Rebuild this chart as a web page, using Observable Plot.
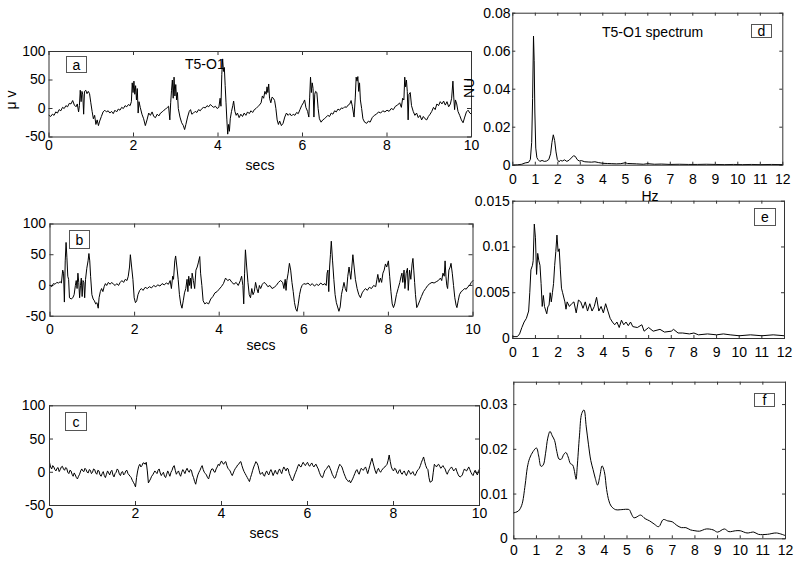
<!DOCTYPE html>
<html><head><meta charset="utf-8">
<script src="https://cdn.jsdelivr.net/npm/d3@7"></script>
<script src="https://cdn.jsdelivr.net/npm/@observablehq/plot@0.6"></script>
<style>
body{margin:0;background:#fff}
#c{position:relative;width:800px;height:563px;font-family:"Liberation Sans",Arial,sans-serif;overflow:hidden}
#c svg{position:absolute;left:0;top:0;background:transparent !important}
.lab{position:absolute;font-size:14px;color:#000;white-space:nowrap;line-height:1}
.box{position:absolute;border:1px solid #555;box-sizing:border-box;display:flex;align-items:center;justify-content:center;font-size:14px;line-height:1;background:#fff}
</style></head><body><div id="c"></div>
<script>
// ---- data ----
const timeTicks = [0, 2, 4, 6, 8, 10];
const voltTicks = [-50, 0, 50, 100];
const hzTicks = [0,1,2,3,4,5,6,7,8,9,10,11,12];
const dTicks = [0, 0.02, 0.04, 0.06, 0.08];
const eTicks = [0, 0.005, 0.01, 0.015];
const fTicks = [0, 0.01, 0.02, 0.03];

// (secs, µV)
const traceA = [[0,-12],[0.04,-14],[0.08,-10],[0.12,-12],[0.16,-6],[0.2,-8],[0.24,-2],[0.28,-4],[0.32,2],[0.36,0],[0.4,5],[0.44,3],[0.48,9],[0.52,8],[0.56,14],[0.6,6],[0.64,3],[0.67,8],[0.7,-6],[0.72,5],[0.74,32],[0.76,12],[0.78,30],[0.8,24],[0.82,-10],[0.84,30],[0.87,32],[0.9,26],[0.93,30],[0.96,26],[0.99,10],[1.02,-5],[1.05,-18],[1.08,-12],[1.11,-28],[1.14,-20],[1.17,-30],[1.2,-22],[1.24,-14],[1.28,-6],[1.32,-3],[1.36,-6],[1.4,-4],[1.44,-8],[1.48,-5],[1.52,-9],[1.56,-3],[1.6,-6],[1.64,-1],[1.68,-3],[1.72,2],[1.76,0],[1.8,5],[1.84,3],[1.88,7],[1.92,5],[1.95,12],[1.97,45],[1.99,28],[2.01,48],[2.03,25],[2.05,40],[2.07,15],[2.09,35],[2.11,-8],[2.13,12],[2.16,2],[2.2,-10],[2.24,-18],[2.28,-30],[2.32,-20],[2.36,-8],[2.4,-12],[2.44,-6],[2.48,-14],[2.52,-16],[2.56,-10],[2.6,-13],[2.64,-8],[2.68,-6],[2.72,-3],[2.76,-1],[2.8,2],[2.83,4],[2.86,-20],[2.88,10],[2.9,32],[2.92,50],[2.94,18],[2.96,55],[2.98,22],[3.0,42],[3.02,15],[3.04,28],[3.06,0],[3.1,-15],[3.14,-25],[3.18,-30],[3.21,-37],[3.24,-28],[3.28,-15],[3.32,-5],[3.35,-2],[3.38,-10],[3.42,-8],[3.46,-5],[3.5,-7],[3.54,-2],[3.58,-4],[3.62,0],[3.66,2],[3.7,1],[3.74,5],[3.78,3],[3.82,7],[3.86,4],[3.9,2],[3.94,4],[3.98,0],[4.02,2],[4.05,18],[4.07,4],[4.09,60],[4.11,87],[4.13,65],[4.15,72],[4.17,40],[4.19,10],[4.21,-20],[4.23,-45],[4.25,-28],[4.27,-40],[4.29,-18],[4.32,-5],[4.35,5],[4.37,13],[4.4,-5],[4.43,-12],[4.46,-8],[4.5,-16],[4.54,-10],[4.58,-14],[4.62,-8],[4.66,-12],[4.7,-6],[4.74,-9],[4.78,-4],[4.82,-7],[4.86,-2],[4.9,0],[4.94,3],[4.98,6],[5.02,10],[5.05,22],[5.08,18],[5.11,30],[5.14,25],[5.16,38],[5.18,28],[5.2,43],[5.22,18],[5.25,10],[5.28,20],[5.31,18],[5.34,14],[5.37,0],[5.4,-20],[5.43,-28],[5.46,-22],[5.5,-30],[5.54,-26],[5.58,-15],[5.62,-8],[5.66,-12],[5.7,-9],[5.74,-13],[5.78,-10],[5.82,-12],[5.86,-7],[5.9,-9],[5.94,-2],[5.98,5],[6.02,10],[6.05,15],[6.08,2],[6.12,-5],[6.15,-15],[6.17,20],[6.19,55],[6.21,28],[6.23,45],[6.25,35],[6.27,-15],[6.29,25],[6.31,30],[6.34,28],[6.37,0],[6.4,-18],[6.44,-24],[6.48,-20],[6.52,-18],[6.56,-15],[6.6,-12],[6.64,-14],[6.68,-8],[6.72,-10],[6.76,-4],[6.8,-6],[6.84,-1],[6.88,-3],[6.92,1],[6.96,0],[7.0,3],[7.04,2],[7.08,6],[7.12,8],[7.15,14],[7.18,4],[7.22,-15],[7.25,20],[7.27,55],[7.29,48],[7.31,56],[7.33,30],[7.35,45],[7.37,15],[7.4,0],[7.43,-18],[7.47,-24],[7.52,-26],[7.56,-22],[7.6,-24],[7.65,-16],[7.7,-12],[7.75,-10],[7.8,-6],[7.85,-8],[7.9,-4],[7.95,-6],[8.0,-3],[8.05,-5],[8.1,0],[8.15,-2],[8.2,4],[8.25,6],[8.3,10],[8.34,2],[8.37,18],[8.4,15],[8.42,55],[8.44,38],[8.46,50],[8.48,30],[8.5,-20],[8.52,25],[8.55,28],[8.58,5],[8.62,-5],[8.66,-12],[8.7,-8],[8.74,-16],[8.78,-12],[8.82,-20],[8.86,-14],[8.9,-18],[8.94,-20],[8.98,-14],[9.02,-10],[9.06,-5],[9.1,2],[9.14,-2],[9.18,8],[9.22,5],[9.26,12],[9.3,8],[9.34,13],[9.38,6],[9.42,12],[9.46,3],[9.5,8],[9.53,18],[9.56,48],[9.58,20],[9.6,-2],[9.62,15],[9.65,8],[9.68,-5],[9.72,-12],[9.76,-20],[9.8,-25],[9.84,-15],[9.88,-6],[9.92,-3],[9.96,-8],[10,-10]];

const traceB = [[0,0],[0.04,-2],[0.08,3],[0.12,2],[0.16,5],[0.2,4],[0.24,6],[0.27,4],[0.3,25],[0.32,20],[0.34,-27],[0.36,40],[0.38,70],[0.4,45],[0.42,15],[0.44,10],[0.46,-20],[0.5,-22],[0.54,-20],[0.57,-15],[0.6,0],[0.62,8],[0.64,-5],[0.66,20],[0.68,5],[0.7,-20],[0.72,0],[0.74,12],[0.76,-18],[0.78,8],[0.8,5],[0.82,-20],[0.84,10],[0.87,28],[0.9,40],[0.92,52],[0.94,40],[0.96,15],[0.99,-15],[1.02,-22],[1.05,-25],[1.08,-30],[1.11,-28],[1.14,-37],[1.16,-20],[1.19,-10],[1.22,-5],[1.25,-10],[1.28,-2],[1.31,3],[1.34,0],[1.38,5],[1.42,2],[1.46,5],[1.5,2],[1.54,0],[1.58,3],[1.62,0],[1.66,5],[1.7,8],[1.74,5],[1.78,10],[1.82,8],[1.85,15],[1.88,30],[1.9,50],[1.93,30],[1.96,10],[1.99,-20],[2.02,-28],[2.05,-25],[2.08,-15],[2.12,-8],[2.16,-5],[2.2,-8],[2.25,-3],[2.3,-5],[2.35,-2],[2.4,-4],[2.45,0],[2.5,-2],[2.55,1],[2.6,-1],[2.65,3],[2.7,1],[2.75,4],[2.8,2],[2.84,8],[2.87,-5],[2.9,15],[2.92,10],[2.95,40],[2.97,48],[3.0,30],[3.03,10],[3.06,-15],[3.09,-30],[3.12,-37],[3.15,-25],[3.18,-12],[3.21,-5],[3.24,10],[3.26,-10],[3.28,15],[3.3,0],[3.32,12],[3.34,-5],[3.36,20],[3.39,8],[3.42,-5],[3.45,25],[3.48,30],[3.51,38],[3.54,47],[3.56,20],[3.59,0],[3.62,-25],[3.66,-30],[3.7,-28],[3.75,-30],[3.8,-22],[3.85,-18],[3.9,-12],[3.95,-10],[4.0,-6],[4.05,-2],[4.1,3],[4.15,12],[4.2,8],[4.25,10],[4.3,5],[4.35,2],[4.4,5],[4.45,0],[4.5,8],[4.53,15],[4.56,0],[4.58,-30],[4.6,20],[4.62,58],[4.65,30],[4.68,5],[4.71,-15],[4.74,-20],[4.77,-5],[4.8,-15],[4.83,-10],[4.86,5],[4.89,-5],[4.92,-12],[4.95,0],[4.98,-5],[5.02,2],[5.06,5],[5.1,3],[5.15,-2],[5.2,0],[5.25,-5],[5.3,-3],[5.35,0],[5.4,5],[5.45,8],[5.5,5],[5.53,-5],[5.56,10],[5.58,-8],[5.6,8],[5.63,20],[5.66,36],[5.69,25],[5.72,5],[5.75,-10],[5.78,-28],[5.81,-38],[5.84,-42],[5.87,-30],[5.9,-15],[5.93,-5],[5.96,0],[6.0,3],[6.05,2],[6.1,4],[6.15,0],[6.2,3],[6.25,-1],[6.3,2],[6.35,0],[6.4,4],[6.45,1],[6.5,3],[6.53,0],[6.55,20],[6.57,25],[6.59,-10],[6.61,30],[6.63,50],[6.65,72],[6.68,40],[6.71,10],[6.74,-15],[6.77,-28],[6.8,-35],[6.83,-42],[6.86,-35],[6.89,-15],[6.92,-5],[6.95,5],[6.98,-5],[7.01,-10],[7.04,15],[7.07,30],[7.09,20],[7.11,10],[7.13,25],[7.16,50],[7.19,30],[7.22,10],[7.26,-5],[7.3,-15],[7.34,-20],[7.38,-12],[7.42,-8],[7.46,-5],[7.5,-8],[7.55,-3],[7.6,-5],[7.65,0],[7.7,-2],[7.73,10],[7.75,18],[7.78,5],[7.81,12],[7.84,5],[7.87,20],[7.9,25],[7.93,35],[7.96,30],[8.0,40],[8.03,15],[8.06,-10],[8.09,-30],[8.12,-36],[8.15,-30],[8.19,-15],[8.23,-5],[8.27,5],[8.3,15],[8.32,20],[8.34,5],[8.37,25],[8.39,-5],[8.42,20],[8.45,28],[8.47,-8],[8.5,25],[8.53,10],[8.56,35],[8.58,44],[8.6,25],[8.62,5],[8.64,-15],[8.67,-36],[8.7,-32],[8.74,-25],[8.78,-18],[8.83,-10],[8.88,-5],[8.93,0],[8.98,3],[9.03,5],[9.08,4],[9.13,6],[9.18,8],[9.23,12],[9.26,8],[9.29,20],[9.32,15],[9.34,40],[9.36,15],[9.38,0],[9.4,-5],[9.43,25],[9.46,30],[9.48,36],[9.51,20],[9.54,0],[9.57,-20],[9.6,-32],[9.62,-36],[9.65,-25],[9.68,-15],[9.72,-10],[9.76,-8],[9.8,-5],[9.84,-6],[9.88,-2],[9.92,0],[9.96,5],[10,8]];

// panel c: sampled every 0.025 s from 0 to 10 s (µV), one row per second
const traceCStep = 0.025;
const traceC = [
15,8,5,10,8,4,2,6,7,1,4,8,9,5,3,7,6,0,-2,3,2,-3,-6,-1,-4,-8,-10,-6,-3,2,5,2,1,6,4,0,-1,4,3,-2,
0,5,4,-1,-3,3,2,-4,-6,-2,1,-5,-8,-3,2,-1,-4,1,3,-4,-7,-2,0,5,3,-3,-5,0,1,-4,-2,2,3,-2,-4,-6,-8,-12,-15,-18,
-22,-8,2,9,12,8,10,14,14,12,15,2,-16,-13,-10,-6,-4,-1,2,0,-2,3,5,-1,-5,-2,0,-6,-8,-3,2,-2,-6,0,3,8,10,3,-3,0,
2,-3,-6,0,4,1,-2,3,6,2,0,4,3,-4,-8,-14,-18,-10,-4,0,3,7,10,4,0,-2,-4,-8,-10,-4,2,5,5,1,0,5,8,12,10,14,
17,14,12,15,16,10,6,4,2,-2,-5,-1,3,6,8,11,12,15,16,10,5,1,-2,-5,-8,-11,-14,-8,-3,3,8,12,16,14,10,3,-3,-2,0,-4,
-6,-1,2,-2,-4,1,4,0,-5,-1,3,-1,-3,2,5,1,-2,4,8,5,2,6,5,-2,-6,-10,-13,-9,-4,0,4,9,12,9,8,12,15,12,10,13,
15,11,9,12,14,10,8,11,12,8,5,0,-4,-7,-8,-3,2,4,6,9,10,6,2,-3,-6,-9,-8,-2,3,8,12,10,8,3,-2,-6,-10,-12,-14,-12,
-16,-13,-10,-6,-2,2,4,0,-3,2,6,4,3,6,8,3,-2,4,10,16,21,14,8,2,-2,3,6,2,0,3,5,7,8,10,12,18,26,16,8,4,
2,6,5,0,-2,2,4,-1,-3,0,2,-2,-5,-1,3,0,-3,-1,1,-3,-5,-2,2,4,6,10,15,19,23,16,10,6,4,-8,-15,-14,-13,0,12,10,
8,11,12,9,6,8,10,7,5,0,-3,1,4,6,8,5,2,4,6,1,-3,-6,-7,-6,-4,1,5,3,2,5,8,4,0,-3,-5,0,3,-1,-4,1,5];

// spectra (Hz, NU)
const specD = [[0,0],[0.2,0.0002],[0.4,0.0005],[0.55,0.0012],[0.7,0.0015],[0.78,0.003],[0.84,0.012],[0.88,0.035],[0.92,0.068],[0.95,0.055],[0.98,0.028],[1.02,0.009],[1.07,0.004],[1.12,0.003],[1.2,0.002],[1.3,0.0025],[1.4,0.002],[1.5,0.0022],[1.6,0.003],[1.68,0.006],[1.74,0.012],[1.8,0.016],[1.86,0.013],[1.92,0.007],[1.98,0.003],[2.05,0.0018],[2.12,0.0025],[2.2,0.0022],[2.3,0.0028],[2.4,0.002],[2.5,0.0026],[2.6,0.0038],[2.7,0.005],[2.78,0.0046],[2.86,0.003],[2.95,0.0022],[3.05,0.0024],[3.2,0.0018],[3.35,0.0017],[3.5,0.0016],[3.65,0.0018],[3.8,0.0014],[4.0,0.001],[4.2,0.0009],[4.4,0.0008],[4.6,0.0007],[4.8,0.0008],[5.0,0.0013],[5.1,0.0009],[5.3,0.0008],[5.5,0.0007],[5.8,0.0005],[6.0,0.0008],[6.3,0.0005],[6.6,0.0006],[7.0,0.0004],[7.4,0.0005],[7.8,0.0004],[8.2,0.0004],[8.6,0.0005],[9.0,0.0004],[9.4,0.0003],[9.8,0.0004],[10.2,0.0003],[10.6,0.0004],[11.0,0.0003],[11.5,0.0004],[12,0.0003]];

const specE = [[0,0.0002],[0.2,0.0002],[0.3,0.0005],[0.4,0.0012],[0.5,0.0018],[0.6,0.0022],[0.7,0.003],[0.75,0.005],[0.8,0.0075],[0.87,0.008],[0.9,0.0085],[0.95,0.0125],[1.0,0.011],[1.05,0.007],[1.1,0.0093],[1.15,0.0085],[1.2,0.008],[1.25,0.006],[1.3,0.0035],[1.35,0.0047],[1.4,0.0035],[1.5,0.0027],[1.55,0.0035],[1.6,0.0036],[1.65,0.005],[1.7,0.004],[1.75,0.005],[1.8,0.006],[1.85,0.008],[1.9,0.0095],[1.95,0.0113],[2.0,0.0095],[2.05,0.0098],[2.1,0.0075],[2.15,0.0055],[2.2,0.005],[2.3,0.004],[2.35,0.0032],[2.4,0.004],[2.5,0.0035],[2.6,0.0038],[2.7,0.004],[2.8,0.0028],[2.9,0.0042],[3.0,0.004],[3.1,0.0033],[3.2,0.004],[3.3,0.003],[3.4,0.0038],[3.5,0.003],[3.6,0.0035],[3.7,0.0045],[3.8,0.003],[3.9,0.0035],[4.0,0.0028],[4.1,0.0038],[4.2,0.003],[4.3,0.0022],[4.4,0.0018],[4.5,0.0015],[4.6,0.0018],[4.7,0.0012],[4.8,0.002],[4.9,0.0015],[5.0,0.0018],[5.1,0.0014],[5.2,0.0018],[5.3,0.0013],[5.5,0.0012],[5.7,0.0015],[5.8,0.0008],[6.0,0.0012],[6.2,0.0008],[6.5,0.001],[6.7,0.0007],[7.0,0.0008],[7.1,0.001],[7.3,0.0006],[7.5,0.0006],[7.8,0.0005],[8.0,0.0006],[8.2,0.0004],[8.6,0.0005],[9.0,0.0004],[9.3,0.0005],[9.6,0.0004],[10.0,0.0003],[10.5,0.0004],[11.0,0.0003],[11.5,0.0004],[12,0.0003]];

const specF = [[0,0.0058],[0.2,0.0062],[0.35,0.0075],[0.5,0.012],[0.6,0.016],[0.7,0.018],[0.85,0.0195],[1.0,0.0203],[1.1,0.0185],[1.2,0.0162],[1.3,0.0165],[1.4,0.019],[1.5,0.0225],[1.6,0.024],[1.7,0.023],[1.8,0.022],[1.9,0.0195],[2.0,0.0178],[2.1,0.0178],[2.2,0.0188],[2.3,0.0193],[2.4,0.0183],[2.5,0.0168],[2.6,0.0165],[2.7,0.0145],[2.75,0.0133],[2.8,0.016],[2.9,0.023],[3.0,0.028],[3.1,0.0288],[3.2,0.025],[3.3,0.021],[3.4,0.0175],[3.5,0.0155],[3.6,0.0135],[3.7,0.012],[3.8,0.014],[3.9,0.0163],[4.0,0.015],[4.1,0.011],[4.2,0.0085],[4.3,0.0073],[4.5,0.0065],[4.7,0.0065],[5.0,0.0066],[5.1,0.0065],[5.2,0.0055],[5.3,0.0047],[5.4,0.0048],[5.6,0.0053],[5.8,0.0045],[6.0,0.004],[6.2,0.0033],[6.4,0.0027],[6.6,0.0043],[6.8,0.004],[7.0,0.0038],[7.2,0.003],[7.4,0.0025],[7.6,0.0025],[7.8,0.002],[8.0,0.0018],[8.2,0.0017],[8.5,0.0022],[8.8,0.002],[9.0,0.0015],[9.3,0.0022],[9.5,0.0016],[9.8,0.0018],[10.0,0.0018],[10.3,0.0013],[10.6,0.0015],[10.8,0.001],[11.2,0.001],[11.6,0.0013],[12,0.0007]];

// ---- drawing ----
const W = 800, H = 563;
const root = document.getElementById("c");
const fmt = d => String(d);

function panel({data, x, y, frame, xDomain, yDomain, xTicks, yTicks, xGap, yGap, curve = "linear", tick = 4}) {
  const [x0, x1, y0, y1] = frame;
  const fw = x1 - x0, fh = y1 - y0;
  const svg = Plot.plot({
    width: W, height: H,
    marginLeft: x0, marginRight: W - x1, marginTop: y0, marginBottom: H - y1,
    x: {domain: xDomain}, y: {domain: yDomain},
    style: {background: "transparent", fontSize: "14px", fontFamily: "'Liberation Sans', Arial, sans-serif", color: "#000", overflow: "visible"},
    marks: [
      Plot.tickX(xTicks, {x: d => d, stroke: "#333", insetTop: fh - tick}),
      Plot.tickX(xTicks, {x: d => d, stroke: "#333", insetBottom: fh - tick}),
      Plot.tickY(yTicks, {y: d => d, stroke: "#333", insetRight: fw - tick}),
      Plot.tickY(yTicks, {y: d => d, stroke: "#333", insetLeft: fw - tick}),
      Plot.line(data, {x, y, stroke: "#000", strokeWidth: 1, curve}),
      Plot.frame({stroke: "#333", strokeWidth: 1}),
      Plot.axisX({anchor: "bottom", ticks: xTicks, tickSize: 0, tickPadding: xGap, tickFormat: fmt, label: null, fill: "#000"}),
      Plot.axisY({anchor: "left", ticks: yTicks, tickSize: 0, tickPadding: yGap, tickFormat: fmt, label: null, fill: "#000"})
    ]
  });
  root.appendChild(svg);
}

const pt = {x: d => d[0], y: d => d[1]};
panel({data: traceA, ...pt, frame: [48.5, 471, 51, 136.5], xDomain: [0, 10], yDomain: [-50, 100], xTicks: timeTicks, yTicks: voltTicks, xGap: 3, yGap: 3.5});
panel({data: traceB, ...pt, frame: [49.5, 472.5, 223.5, 315.7], xDomain: [0, 10], yDomain: [-50, 100], xTicks: timeTicks, yTicks: voltTicks, xGap: 7.5, yGap: 4});
panel({data: traceC, x: (d, i) => i * traceCStep, y: d => d, frame: [49, 479, 405.3, 505], xDomain: [0, 10], yDomain: [-50, 100], xTicks: timeTicks, yTicks: voltTicks, xGap: 2.5, yGap: 4.3});
panel({data: specD, ...pt, frame: [512.3, 782.3, 12.7, 164.7], xDomain: [0, 12], yDomain: [0, 0.08], xTicks: hzTicks, yTicks: dTicks, xGap: 8.5, yGap: 2.3, tick: 3});
panel({data: specE, ...pt, frame: [512.3, 784, 200.7, 338], xDomain: [0, 12], yDomain: [0, 0.015], xTicks: hzTicks, yTicks: eTicks, xGap: 8.5, yGap: 3, tick: 3});
panel({data: specF, ...pt, frame: [513.3, 785, 381.7, 538.3], xDomain: [0, 12], yDomain: [0, 0.035], xTicks: hzTicks, yTicks: fTicks, xGap: 6.5, yGap: 6, curve: "catmull-rom", tick: 3});

// ---- annotations ----
function lab(text, left, top, extra = "") {
  const el = document.createElement("div");
  el.className = "lab"; el.textContent = text;
  el.style.cssText += `left:${left}px;top:${top}px;${extra}`;
  root.appendChild(el);
  return el;
}
function box(text, l, r, t, b) {
  const el = document.createElement("div");
  el.className = "box"; el.textContent = text;
  el.style.cssText += `left:${l}px;top:${t}px;width:${r - l}px;height:${b - t}px;`;
  root.appendChild(el);
}
lab("secs", 260, 158, "transform:translateX(-50%)");
lab("secs", 261, 338, "transform:translateX(-50%)");
lab("secs", 264, 526, "transform:translateX(-50%)");
lab("T5-O1", 185, 57);
lab("T5-O1 spectrum", 602, 25);
lab("Hz", 650, 189, "transform:translateX(-50%)");
lab("μ v", 11, 100, "transform:translate(-50%,-50%) rotate(-90deg)");
lab("NU", 469, 88, "transform:translate(-50%,-50%) rotate(-90deg)");
box("a", 66, 87, 56, 73);
box("b", 69, 90, 230, 249);
box("c", 65, 87, 412, 431);
box("d", 751, 772, 24, 38);
box("e", 754, 776, 208, 226);
box("f", 754, 775, 393, 407);
</script></body></html>
